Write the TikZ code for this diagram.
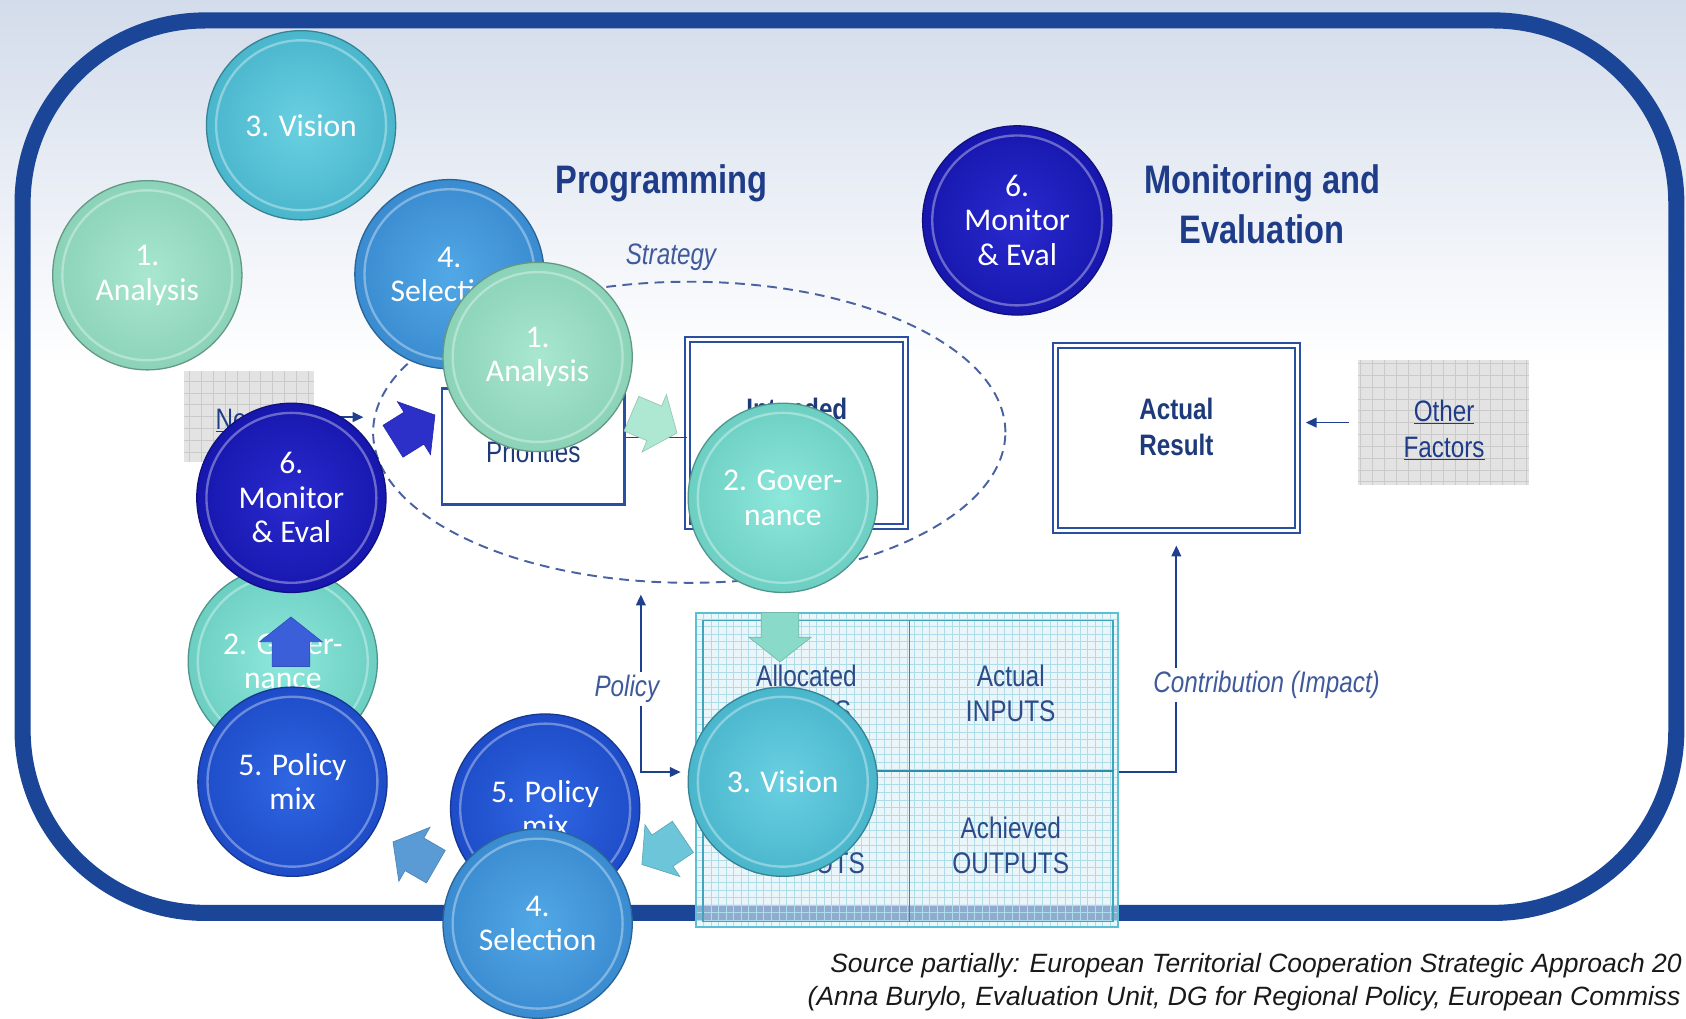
\documentclass[tikz,border=0pt]{standalone}
\usepackage{fontspec}
\setmainfont{Liberation Sans}
\newfontfamily\narrowf[FakeStretch=0.82]{Liberation Sans}
\newfontfamily\carlf{Carlito}
\usetikzlibrary{shapes.geometric,arrows.meta}

\definecolor{topc}{HTML}{D3DCEB}
\definecolor{framec}{HTML}{1B4596}
\definecolor{head}{HTML}{1F3C88}
\definecolor{slate}{HTML}{3F5A9C}
\definecolor{boxline}{HTML}{2A4FA0}
\definecolor{boxtxt}{HTML}{1E3A7A}
\definecolor{gridtxt}{HTML}{2E4A88}
\definecolor{connblue}{HTML}{1F3F8F}
\definecolor{dashc}{HTML}{4A62A0}
\definecolor{grayfill}{HTML}{E3E3E3}
\definecolor{grayline}{HTML}{CACACA}
\definecolor{gfill}{HTML}{DDF0F6}
\definecolor{gline}{HTML}{AEDCE8}
\definecolor{gouter}{HTML}{5BC0D4}
\definecolor{ginner}{HTML}{3FA5BE}
\definecolor{gdiv}{HTML}{2F8FAA}
\definecolor{mintL}{HTML}{A9E7D0}
\definecolor{mintB}{HTML}{8BD3B8}
\definecolor{visL}{HTML}{6AD0E2}
\definecolor{visB}{HTML}{4AB6CC}
\definecolor{selL}{HTML}{52A8E6}
\definecolor{selB}{HTML}{3A8BD0}
\definecolor{monL}{HTML}{2A2AD0}
\definecolor{monB}{HTML}{1717AE}
\definecolor{govL}{HTML}{8EE8DC}
\definecolor{govB}{HTML}{6CCFC2}
\definecolor{polL}{HTML}{2F66E2}
\definecolor{polB}{HTML}{1E4CC8}
\definecolor{arrA}{HTML}{2C30C8}
\definecolor{arrB}{HTML}{AEE8D2}
\definecolor{arrC}{HTML}{8ADACA}
\definecolor{arrD}{HTML}{3A5FD8}
\definecolor{arrE}{HTML}{5B9BD5}
\definecolor{arrF}{HTML}{6CC5D8}

\newcommand\barrow[3]{%
  \fill[#3, draw=#3!85!black, line width=0.6pt, shift={(#1)}, rotate=#2]
    (0,0) -- (-23,29) -- (-23,17.5) -- (-46,17.5) -- (-46,-17.5) -- (-23,-17.5) -- (-23,-29) -- cycle;}

\begin{document}
\begin{tikzpicture}[x=1pt,y=-1pt,
  >={Triangle[length=10pt,width=9pt]},
  ball/.style 2 args={circle, minimum size=176pt, inner sep=0pt, inner color=#1, outer color=#2,
    draw=#2!72!black, line width=1.2pt, text=white, align=center,
    font=\carlf\fontsize{29.4}{32}\selectfont,
    path picture={\draw[white,opacity=.35,line width=2.2pt] (path picture bounding box.center) circle[radius=79pt];}},
  mintball/.style={ball={mintL}{mintB}},
  visball/.style={ball={visL}{visB}},
  selball/.style={ball={selL}{selB}},
  monball/.style={ball={monL}{monB}},
  govball/.style={ball={govL}{govB}},
  polball/.style={ball={polL}{polB}},
  conn/.style={draw=connblue, line width=1.6pt},
  headtxt/.style={text=head, font=\narrowf\bfseries\fontsize{37}{46}\selectfont, align=center},
  lbl/.style={text=slate, font=\narrowf\itshape\fontsize{27.5}{32}\selectfont},
  linktxt/.style={text=head, font=\narrowf\fontsize{27.5}{33}\selectfont, align=center},
  boxtext/.style={text=boxtxt, font=\narrowf\fontsize{27.5}{34}\selectfont, align=center},
  boxbold/.style={text=boxtxt, font=\narrowf\bfseries\fontsize{27.5}{34}\selectfont, align=center},
  gridt/.style={text=gridtxt, font=\narrowf\fontsize{27.7}{32}\selectfont, align=center},
  src/.style={text=black!90, font=\itshape\fontsize{24.6}{30}\selectfont},
  graybox/.style={rectangle, fill=grayfill, inner sep=0pt,
    path picture={\draw[grayline, line width=0.7pt, step=11pt] (path picture bounding box.south west) grid (path picture bounding box.north east);}},
  pribox/.style={rectangle, draw=boxline, line width=2.5pt, fill=white, minimum width=170pt, minimum height=108pt, inner sep=0pt},
  dbox/.style={rectangle, draw=boxline, double=white, double distance=2.8pt, line width=1.8pt, fill=white, inner sep=0pt},
]
\useasboundingbox (0,0) rectangle (1568,947);
\shade[top color=topc, bottom color=white] (0,0) rectangle (1568,340);
\fill[white] (0,340) rectangle (1568,947);

% outer frame
\node[draw=framec, line width=15pt, rounded corners=170pt, minimum width=1538pt, minimum height=830pt, inner sep=0pt] (frame) at (790,434) {};

% headings
\node[headtxt, anchor=base] (prog) at (615,180) {Programming};
\node[headtxt] (mon) at (1174,190) {Monitoring and\\Evaluation};
\node[lbl, anchor=base] (stratl) at (624,246) {Strategy};

% strategy ellipse
\node[ellipse, draw=dashc, line width=1.8pt, dash pattern=on 9pt off 6pt, minimum width=588pt, minimum height=280pt, inner sep=0pt] (strat) at (641,402) {};

% grey boxes
\node[graybox, minimum width=121pt, minimum height=85pt] (needs) at (231.5,387.5) {};
\node[linktxt, anchor=base west] (needst) at (197,399) {\underline{Ne}};
\node[graybox, minimum width=159pt, minimum height=116pt] (other) at (1342.5,393) {};
\node[linktxt] (othert) at (1343,400) {\underline{Other}\\\underline{Factors}};

% boxes
\node[pribox] (pri) at (496,415) {};
\node[boxtext, anchor=base] (prit) at (496,430) {Priorities};
\node[dbox, minimum width=203pt, minimum height=174pt] (int) at (741,402.5) {};
\node[boxbold, anchor=base] (intt) at (741,390) {Intended};
\node[dbox, minimum width=225pt, minimum height=172pt] (act) at (1094,407.5) {};
\node[boxbold] (actt) at (1094,397) {Actual\\Result};

% connectors
\coordinate (neend) at (338,388);
\draw[conn,->] (needs.east) -- (neend);
\draw[conn,->, shorten <=8pt, shorten >=7pt] (other.west) -- (act.east |- other.west);
\coordinate (pl) at (600,407);
\draw[conn] (pri.east |- pl) -- (int.west |- pl);

% inputs / outputs grid box
\node[rectangle, draw=gouter, line width=1.5pt, fill=gfill, fill opacity=0.6, minimum width=393pt, minimum height=292pt, inner sep=0pt,
  path picture={\draw[gline, line width=0.9pt, step=7pt] (path picture bounding box.south west) grid (path picture bounding box.north east);}] (gridbox) at (843.5,716) {};
\node[rectangle, draw=ginner, line width=1.5pt, minimum width=381pt, minimum height=280pt, inner sep=0pt] (gridin) at (844.5,717) {};
\coordinate (vx) at (846,717);
\draw[gdiv, line width=1.5pt] (vx |- gridin.north) -- (vx |- gridin.south);
\draw[gdiv, line width=1.5pt] (gridin.west |- vx) -- (gridin.east |- vx);
\node[gridt] (c1) at (750,645) {Allocated\\INPUTS};
\node[gridt] (c2) at (940,645) {Actual\\INPUTS};
\node[gridt] (c4) at (940,786) {Achieved\\OUTPUTS};
\node[gridt, anchor=base] (c3) at (750,812) {OUTPUTS};

% policy connector
\coordinate (poltop) at (596,553);
\coordinate (polc) at (596,718);
\coordinate (polend) at (633,718);
\draw[conn,<->] (poltop) -- (polc) -- (polend);
\node[lbl, fill=white, inner sep=3pt] (poll) at (583,641) {Policy};

% contribution connector
\coordinate (cc) at (1094,718);
\draw[conn,->, shorten >=13pt] (gridbox.east |- cc) -- (cc) -- (act.south);
\node[lbl, fill=white, inner sep=3pt] (conl) at (1178,637) {Contribution (Impact)};

% block arrows
\barrow{404.5,386}{32}{arrA}
\barrow{629.6,402.7}{-23}{arrB}
\barrow{725.4,615.6}{-90}{arrC}
\barrow{597,804}{-146}{arrF}
\barrow{365.5,783}{150}{arrE}

% circles
\node[visball] (v1) at (280,116.5) {3. Vision};
\node[mintball] (a1) at (137,256) {1.\\Analysis};
\node[selball] (s1) at (418,255) {4.\\Selection};
\node[mintball] (a2) at (500,332) {1.\\Analysis};
\node[monball] (m1) at (946,205) {6.\\Monitor\\\& Eval};
\node[govball] (g1) at (728,463) {2. Gover-\\nance};
\node[govball] (g2) at (263,615) {2. Gover-\\nance};
\node[monball] (m2) at (271,463) {6.\\Monitor\\\& Eval};
\node[polball] (p1) at (272,727) {5. Policy\\mix};
\barrow{270.6,573.8}{90}{arrD}
\node[polball] (p2) at (507,752) {5. Policy\\mix};
\node[selball] (s2) at (500,859) {4.\\Selection};
\node[visball] (v2) at (728,727) {3. Vision};

% source
\node[src, anchor=base west, inner sep=0pt] (src1) at (772,904) {Source partially: European Territorial Cooperation Strategic Approach 20};
\node[src, anchor=base west, inner sep=0pt] (src2) at (751,935) {(Anna Burylo, Evaluation Unit, DG for Regional Policy, European Commiss};
\end{tikzpicture}
\end{document}
